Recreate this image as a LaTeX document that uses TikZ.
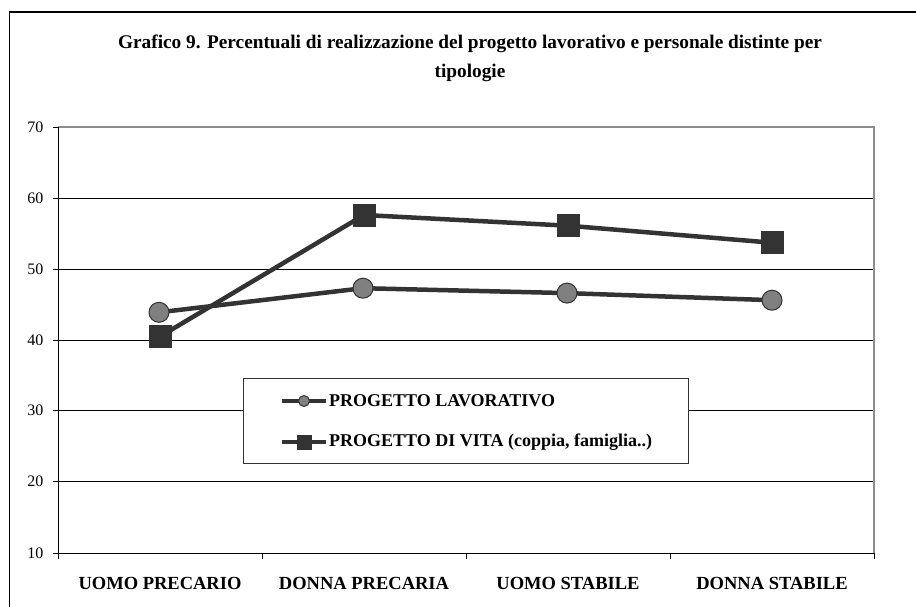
\documentclass[tikz,border=0pt]{standalone}
\usepackage{fontspec}
\setmainfont{Liberation Serif}
\usepackage{tikz}
\usepackage{xcolor}
\definecolor{seriesdark}{RGB}{51,51,51}
\definecolor{markergray}{RGB}{128,128,128}
\definecolor{framegray}{RGB}{140,140,140}
\usetikzlibrary{positioning,calc,backgrounds}

\begin{document}
\begin{tikzpicture}[
        x=1pt, y=-1pt,
        grid/.style={black, line width=0.9pt},
        ticklabel/.style={anchor=east, font=\fontsize{16}{18}\selectfont},
        catlabel/.style={font=\bfseries\fontsize{18.5}{20}\selectfont},
        serie/.style={seriesdark, line width=4.5pt},
        circmark/.style={circle, draw=seriesdark, fill=markergray, line width=1pt, minimum size=20pt, inner sep=0pt},
        sqmark/.style={rectangle, fill=seriesdark, minimum size=23pt, inner sep=0pt},
        legtext/.style={anchor=west, font=\bfseries\fontsize{18}{20}\selectfont, inner sep=0pt}
    ]
        \useasboundingbox (0,0) rectangle (916,606);
        % Chart frame
        \draw[line width=1.5pt] (9.5,620) -- (9.5,12) -- (930,12);
        
        % Title
        \node[font=\bfseries\fontsize{19.3}{29}\selectfont, align=center] (title) at (470,58) {Grafico 9. Percentuali di realizzazione del progetto lavorativo e personale distinte per\\tipologie};
        
        % Grid and axes
        \begin{scope}[on background layer]
        \draw[grid] (58,198) -- (874,198);
        \draw[grid] (58,269) -- (874,269);
        \draw[grid] (58,340) -- (874,340);
        \draw[grid] (58,410) -- (874,410);
        \draw[grid] (58,481) -- (874,481);
        \draw[framegray, line width=1.5pt] (58,127) -- (874,127) -- (874,553);
        \draw[grid] (53,127) -- (58,127) (53,198) -- (58,198) (53,269) -- (58,269) (53,340) -- (58,340)
            (53,410) -- (58,410) (53,481) -- (58,481);
        \draw[grid] (58,127) -- (58,559);
        \draw[grid] (53,553) -- (874,553);
        \draw[grid] (262,553) -- (262,559) (466,553) -- (466,559) (670,553) -- (670,559) (874,553) -- (874,559);
        \end{scope}
        
        % Tick labels
        \node[ticklabel] (t70) at (47,127) {70};
        \node[ticklabel] (t60) at (47,198) {60};
        \node[ticklabel] (t50) at (47,269) {50};
        \node[ticklabel] (t40) at (47,340) {40};
        \node[ticklabel] (t30) at (47,410) {30};
        \node[ticklabel] (t20) at (47,481) {20};
        \node[ticklabel] (t10) at (47,553) {10};
        
        % Categories
        \node[catlabel] (uomoprec) at (160,583) {UOMO PRECARIO};
        \node[catlabel] (donnaprec) at (364,583) {DONNA PRECARIA};
        \node[catlabel] (uomostab) at (568,583) {UOMO STABILE};
        \node[catlabel] (donnastab) at (772,583) {DONNA STABILE};
        
        % Progetto lavorativo
        \node[circmark] (lav1) at (159,312.3) {};
        \node[circmark] (lav2) at (363,288.2) {};
        \node[circmark] (lav3) at (567,293.1) {};
        \node[circmark] (lav4) at (772,300.2) {};
        
        % Progetto di vita
        \node[sqmark] (vita1) at (160,336.5) {};
        \node[sqmark] (vita2) at (364,215.0) {};
        \node[sqmark] (vita3) at (568,225.7) {};
        \node[sqmark] (vita4) at (772,242.7) {};
        
        % Lines
        \begin{scope}[on background layer]
        \draw[serie] (lav1.center) -- (lav2.center) -- (lav3.center) -- (lav4.center);
        \draw[serie] (vita1.center) -- (vita2.center) -- (vita3.center) -- (vita4.center);
        \end{scope}
        
        % Legend
        \node[draw=seriesdark, fill=white, line width=1pt, minimum width=445pt, minimum height=85pt, inner sep=0pt] (legend) at (465.5,420.5) {};
        \coordinate (leglavA) at (282,401);
        \coordinate (leglavB) at (326,401);
        \coordinate (legvitaA) at (282,442);
        \coordinate (legvitaB) at (326,442);
        \draw[serie] (leglavA) -- (leglavB);
        \draw[serie] (legvitaA) -- (legvitaB);
        \node[circmark, minimum size=11pt] (leglav) at (304,401) {};
        \node[sqmark, minimum size=15pt] (legvita) at (304,442) {};
        \node[legtext] (leglavtext) at (329,401) {PROGETTO LAVORATIVO};
        \node[legtext] (legvitatext) at (329,442) {PROGETTO DI VITA (coppia, famiglia..)};
    \end{tikzpicture}
\end{document}
